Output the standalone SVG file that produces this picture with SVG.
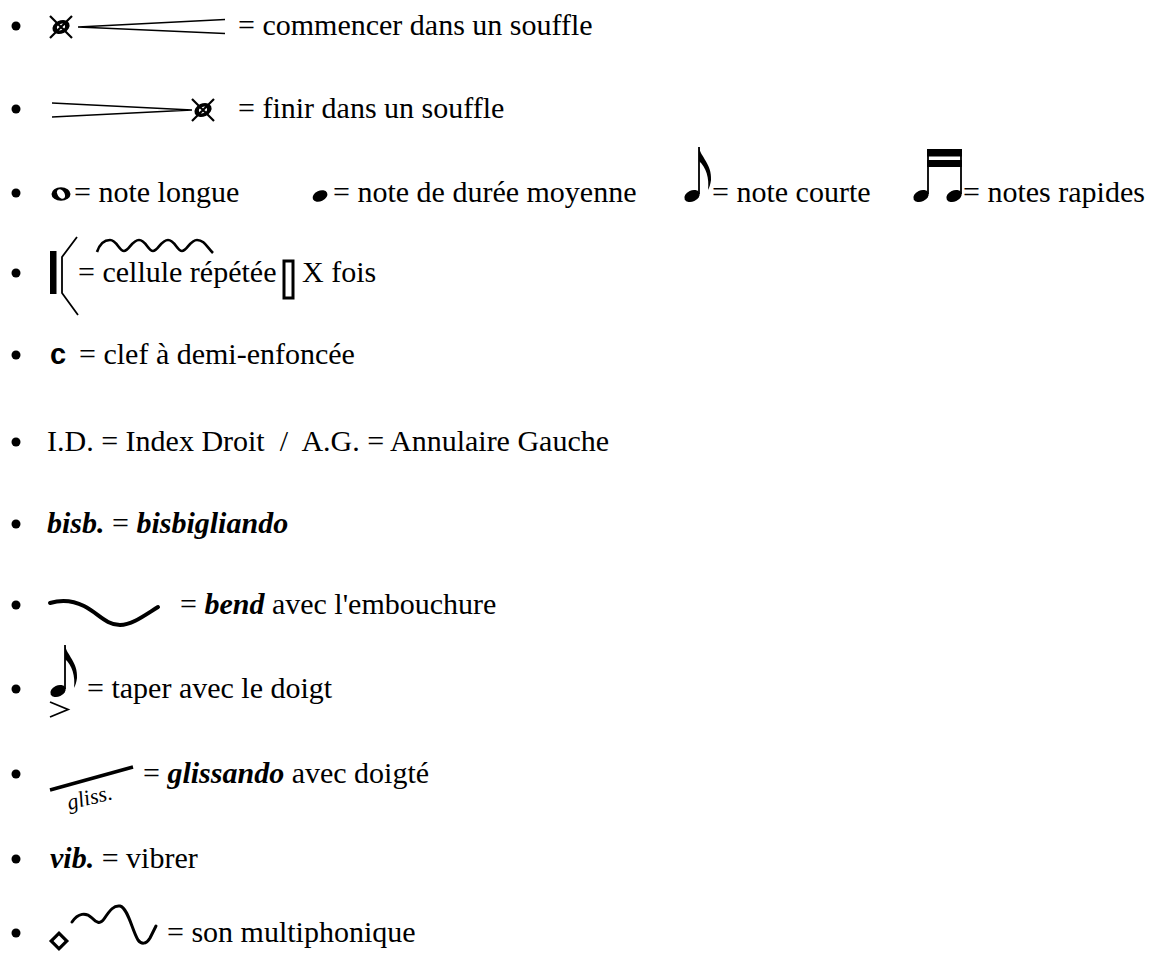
<svg xmlns="http://www.w3.org/2000/svg" width="1155" height="959" viewBox="0 0 1155 959">
<style>
.t{font-family:"Liberation Serif","Times New Roman",serif;font-size:30px;fill:#000}
.bi{font-weight:bold;font-style:italic}
.i{font-style:italic}
.sym{fill:none;stroke:#000}
</style>
<defs>
<g id="xhead">
<ellipse rx="9" ry="6.5" transform="rotate(-25)" fill="#000"/>
<ellipse rx="4.2" ry="3" transform="rotate(-25)" fill="#fff"/>
<path d="M-11,-11 L11,11 M-11,11 L11,-11" fill="none" stroke="#000" stroke-width="2.2"/>
</g>
<path id="flag" d="M0,-44 C1.5,-34 13,-27 12,-11 C11.5,-7 10.5,-4 9,-1 C10.5,-13 7,-24 0,-30 Z" fill="#000"/>
</defs>
<rect width="1155" height="959" fill="#fff"/>
<g id="bullets" fill="#000">
<circle cx="16" cy="26" r="4.5"/><circle cx="16" cy="109" r="4.5"/><circle cx="16" cy="193" r="4.5"/>
<circle cx="16" cy="273" r="4.5"/><circle cx="16" cy="355" r="4.5"/><circle cx="16" cy="442" r="4.5"/>
<circle cx="16" cy="524" r="4.5"/><circle cx="16" cy="605" r="4.5"/><circle cx="16" cy="689" r="4.5"/>
<circle cx="16" cy="774" r="4.5"/><circle cx="16" cy="859" r="4.5"/><circle cx="16" cy="933" r="4.5"/>
</g>
<g id="row1">
<use href="#xhead" x="61" y="27"/>
<path d="M78,27 L225,19.5 M78,27 L225,33.5" class="sym" stroke-width="1.6"/>
<text x="238" y="35" class="t">= commencer dans un souffle</text>
</g>
<g id="row2">
<path d="M52,103 L192,110 M52,117 L192,110" class="sym" stroke-width="1.6"/>
<use href="#xhead" x="203" y="110"/>
<text x="238" y="118" class="t">= finir dans un souffle</text>
</g>
<g id="row3">
<g transform="translate(61,194)">
<ellipse rx="9.5" ry="6.8" fill="#000"/>
<ellipse rx="3.4" ry="5.2" transform="rotate(-35)" fill="#fff"/>
</g>
<text x="74" y="202" class="t">= note longue</text>
<ellipse cx="320" cy="196" rx="7.8" ry="5.3" transform="rotate(-25 320 196)" fill="#000"/>
<text x="333" y="202" class="t">= note de durée moyenne</text>
<g transform="translate(692,196)">
<ellipse rx="8" ry="5.5" transform="rotate(-25)" fill="#000"/>
<path d="M7,-2 L7,-49" class="sym" stroke-width="1.8"/>
<use href="#flag" x="7" y="-5"/>
</g>
<text x="712" y="202" class="t">= note courte</text>
<g transform="translate(921,196)">
<ellipse rx="8" ry="5.5" transform="rotate(-25)" fill="#000"/>
<ellipse cx="33" rx="8" ry="5.5" transform="rotate(-25 33 0)" fill="#000"/>
<path d="M7,-2 L7,-47 M40,-2 L40,-47" class="sym" stroke-width="1.8"/>
<rect x="6.1" y="-47" width="34.8" height="7.5" fill="#000"/>
<rect x="6.1" y="-36" width="34.8" height="7" fill="#000"/>
</g>
<text x="963" y="202" class="t">= notes rapides</text>
</g>
<g id="row4">
<rect x="50" y="251" width="6.5" height="43" fill="#000"/>
<path d="M77,237 L62,257 L62,293 L78,315" class="sym" stroke-width="1.8"/>
<path d="M97,252 C100,243 105,240 110,240 C117,240 119,251 124,251 C129,251 132,240 139,240 C146,240 148,251 153,251 C158,251 161,240 168,240 C175,240 177,251 182,251 C187,251 190,240 197,240 C204,240 207,247 213,253" class="sym" stroke-width="2.6"/>
<text x="78" y="282" class="t">= cellule répétée</text>
<rect x="284" y="261" width="9" height="37" class="sym" stroke-width="3"/>
<text x="302" y="282" class="t">X fois</text>
</g>
<g id="row5">
<text x="50" y="364" style="font-family:'Liberation Sans',Arial,sans-serif;font-size:29px;font-weight:bold">c</text>
<text x="79" y="364" class="t">= clef à demi-enfoncée</text>
</g>
<g id="row6">
<text x="47" y="451" class="t" xml:space="preserve">I.D. = Index Droit  /  A.G. = Annulaire Gauche</text>
</g>
<g id="row7">
<text x="47" y="533" class="t"><tspan class="bi">bisb.</tspan> = <tspan class="bi">bisbigliando</tspan></text>
</g>
<g id="row8">
<path d="M50,603 C60,600 72,600 84,606 C98,613 106,625 120,625 C132,625 145,615 158,607" class="sym" stroke-width="4" stroke-linecap="round"/>
<text x="180" y="614" class="t">= <tspan class="bi">bend</tspan> avec l'embouchure</text>
</g>
<g id="row9">
<g transform="translate(58,691)">
<ellipse rx="8" ry="5.5" transform="rotate(-25)" fill="#000"/>
<path d="M7,-2 L7,-46" class="sym" stroke-width="1.8"/>
<use href="#flag" x="7" y="-2"/>
<path d="M-8,11 L10,18.5 L-8,26" class="sym" stroke-width="1.8"/>
</g>
<text x="87" y="698" class="t">= taper avec le doigt</text>
</g>
<g id="row10">
<path d="M50,790 L133,767" class="sym" stroke-width="3.5"/>
<text x="69" y="810" transform="rotate(-14 69 810)" class="t i" style="font-size:22px">gliss.</text>
<text x="143" y="783" class="t">= <tspan class="bi">glissando</tspan> avec doigté</text>
</g>
<g id="row11">
<text x="50" y="868" class="t"><tspan class="bi">vib.</tspan> = vibrer</text>
</g>
<g id="row12">
<rect x="53.5" y="935.5" width="11" height="11" transform="rotate(45 59 941)" class="sym" stroke-width="3.2"/>
<path d="M72,922 C78,913 86,912 92,918 C96,922 100,925 104,919 C110,910 114,905 120,906 C128,908 132,930 138,940 C141,944 146,945 150,938 L156,926" class="sym" stroke-width="3" stroke-linecap="round" stroke-linejoin="round"/>
<text x="167" y="942" class="t">= son multiphonique</text>
</g>
</svg>
